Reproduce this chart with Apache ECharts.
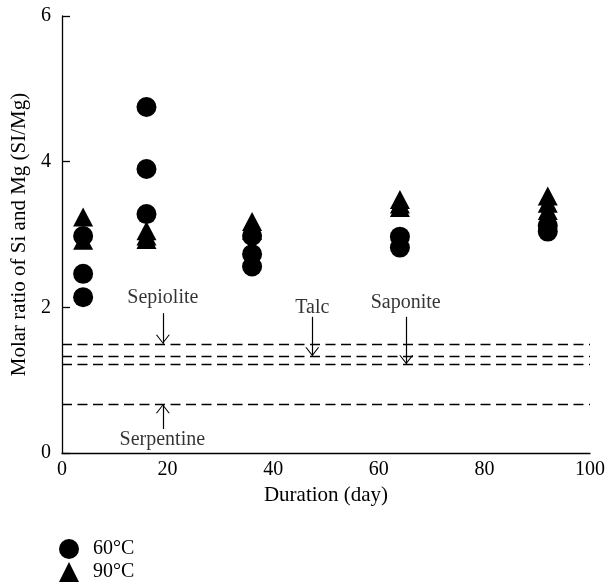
<!DOCTYPE html>
<html>
<head>
<meta charset="utf-8">
<script src="https://cdn.jsdelivr.net/npm/echarts@6/dist/echarts.min.js"></script>
<style>html,body{margin:0;padding:0;background:#fff}#c{width:608px;height:587px}</style>
</head>
<body>
<div id="c"></div>
<script>
// Data
const days60 = [4, 4, 4, 16, 16, 16, 36, 36, 36, 64, 64, 92, 92];
const ratio60 = [2.14, 2.46, 2.98, 4.75, 3.90, 3.28, 2.98, 2.73, 2.56, 2.97, 2.82, 3.12, 3.04];
const days90 = [4, 4, 16, 16, 16, 36, 36, 64, 64, 64, 92, 92, 92];
const ratio90 = [3.24, 2.92, 3.05, 2.98, 2.93, 3.18, 3.06, 3.48, 3.42, 3.37, 3.53, 3.43, 3.33];
const refNames = ['Sepiolite', 'Talc', 'Saponite', 'Serpentine'];
const refValues = [1.5, 1.33, 1.22, 0.67];
// annotation arrows: x position, start y; labels
const arrowX = [19.1, 47.4, 65.2, 19.1];
const arrowFrom = [1.92, 1.87, 1.87, 0.33];
const labelY = [2.13, 2.0, 2.06, 0.18];
const labelX = [19.1, 47.4, 65.1, 19.0];
const xTicks = [0, 20, 40, 60, 80, 100];
const yTicks = [0, 2, 4, 6];

const font = 'Liberation Serif';
const chart = echarts.init(document.getElementById('c'));
const pair = (xs, ys) => xs.map((x, i) => [x, ys[i]]);

const chevDown = 'path://M0,0 L7,9 L14,0 L12.7,0 L7,7.4 L1.3,0 Z';
const chevUp = 'path://M0,9 L7,0 L14,9 L12.7,9 L7,1.6 L1.3,9 Z';

chart.setOption({
  animation: false,
  textStyle: { fontFamily: font, color: '#000' },
  grid: { left: 62, right: 17, top: 16, bottom: 134 },
  xAxis: {
    type: 'value', min: xTicks[0], max: xTicks[xTicks.length - 1], interval: 20,
    name: 'Duration (day)', nameLocation: 'middle', nameGap: 31,
    nameTextStyle: { fontFamily: font, fontSize: 21, color: '#000' },
    axisLine: { lineStyle: { color: '#000', width: 1.3 } },
    axisTick: { show: false },
    axisLabel: { fontFamily: font, fontSize: 20, color: '#000', margin: 7 },
    splitLine: { show: false }
  },
  yAxis: {
    type: 'value', min: yTicks[0], max: yTicks[yTicks.length - 1], interval: 2,
    name: 'Molar ratio of Si and Mg (SI/Mg)', nameLocation: 'middle', nameGap: 32,
    nameTextStyle: { fontFamily: font, fontSize: 21, color: '#000' },
    axisLine: { show: true, lineStyle: { color: '#000', width: 1.3 } },
    axisTick: { show: true, inside: true, length: 8, lineStyle: { color: '#000', width: 1.3 } },
    axisLabel: { fontFamily: font, fontSize: 20, color: '#000', margin: 11 },
    splitLine: { show: false }
  },
  legend: {
    orient: 'vertical', left: 59, top: 539, padding: 0,
    itemWidth: 20, itemHeight: 20, itemGap: 3,
    textStyle: { fontFamily: font, fontSize: 20, color: '#000', padding: [0, 0, 0, 9] },
    data: [{ name: '60°C', icon: 'circle' }, { name: '90°C', icon: 'triangle' }]
  },
  series: [
    {
      name: '90°C', type: 'scatter', symbol: 'triangle', symbolSize: [20, 19],
      itemStyle: { color: '#000', opacity: 1 }, z: 3,
      data: pair(days90, ratio90)
    },
    {
      name: '60°C', type: 'scatter', symbol: 'circle', symbolSize: 20,
      itemStyle: { color: '#000', opacity: 1 }, z: 4,
      data: pair(days60, ratio60),
      markLine: {
        silent: true, symbol: 'none',
        lineStyle: { color: '#000', type: [10, 5.5], width: 1.3 },
        label: { show: false },
        data: refValues.map(v => ({ yAxis: v }))
      }
    },
    {
      name: 'arrows', type: 'scatter', silent: true,
      symbolSize: [14, 9],
      itemStyle: { color: '#000', opacity: 1 },
      data: refNames.map((n, i) => {
        const down = arrowFrom[i] > refValues[i];
        return {
          value: [arrowX[i], refValues[i]],
          symbol: down ? chevDown : chevUp,
          symbolOffset: [0, down ? -4.5 : 4.5]
        };
      }),
      markLine: {
        silent: true, symbol: 'none',
        lineStyle: { color: '#000', type: 'solid', width: 1.2 },
        label: { show: false },
        data: refNames.map((n, i) => [
          { coord: [arrowX[i], arrowFrom[i]] },
          { coord: [arrowX[i], refValues[i]] }
        ])
      }
    },
    {
      name: 'labels', type: 'scatter', symbolSize: 0, silent: true,
      label: {
        show: true, position: 'inside', fontFamily: font, fontSize: 20, color: '#000',
        formatter: p => p.data[2]
      },
      data: refNames.map((n, i) => [labelX[i], labelY[i], n])
    }
  ]
});
</script>
</body>
</html>
